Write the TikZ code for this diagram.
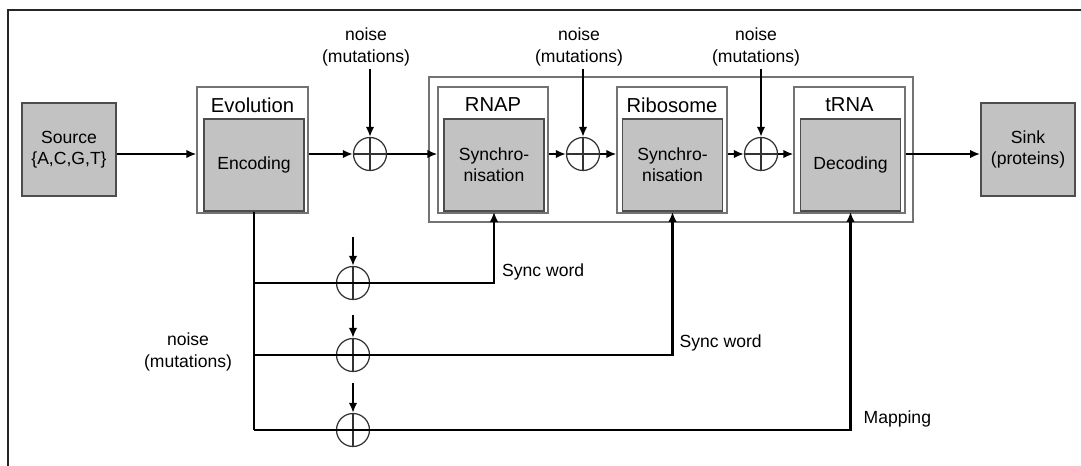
\documentclass[tikz,border=0pt]{standalone}
\usepackage{fontspec}
\setmainfont{Liberation Sans}
\usetikzlibrary{arrows.meta, positioning, calc}
\definecolor{grisCaja}{HTML}{C2C2C2}
\definecolor{bordeCaja}{HTML}{4D4D4D}
\definecolor{bordeMarco}{HTML}{737373}

\begin{document}
\begin{tikzpicture}[x=0.02cm, y=-0.02cm, font=\fontsize{10}{12}\selectfont, >=Latex,
        blk/.style={draw=bordeCaja, line width=1pt, fill=grisCaja, minimum width=2cm,
            minimum height=1.84cm, inner sep=0pt, align=center},
        outer/.style={draw=bordeMarco, line width=0.7pt, minimum width=2.22cm,
            minimum height=2.52cm, inner sep=0pt},
        ttl/.style={font=\fontsize{11.5}{13}\selectfont, anchor=north, inner sep=0pt},
        add/.style={circle, draw=black!80, line width=0.7pt, minimum size=0.66cm, inner sep=0pt,
            path picture={\draw[black!80, line width=0.7pt]
                (path picture bounding box.north) -- (path picture bounding box.south)
                (path picture bounding box.west) -- (path picture bounding box.east);}},
        sig/.style={-{Latex[length=2mm, width=1.7mm]}, line width=1.3pt},
        wire/.style={line width=1.3pt},
        tag/.style={anchor=south west, inner sep=0pt},
        lbl/.style={align=center, inner sep=0pt, font=\fontsize{10}{12.5}\selectfont}]
    \useasboundingbox (0,0) rectangle (1081,466);
    \draw[line width=1.3pt, black!85] (8,466) -- (8,10) -- (1081,10);
    % source, evolution, sink
    \node[blk, minimum width=1.88cm, minimum height=1.86cm] (src) at (69,149.5) {Source\\\{A,C,G,T\}};
    \node[outer] (evo) at (252.5,150) {};
    \node[ttl] at ([yshift=-0.22cm]evo.north) {Evolution};
    \node[blk] (enc) at (254,165) {Encoding};
    \node[blk, minimum width=1.88cm, minimum height=1.86cm] (sink) at (1028,149.5) {Sink\\(proteins)};
    % channel block
    \node[draw=bordeMarco, line width=0.7pt, minimum width=9.68cm, minimum height=2.9cm] (chan) at (671,149.5) {};
    \node[outer, minimum width=2.2cm] (rnap) at (493,150) {};
    \node[ttl] at ([yshift=-0.22cm]rnap.north) {RNAP};
    \node[blk] (rnapIn) at (494,165) {Synchro-\\nisation};
    \node[outer, minimum width=2.2cm] (ribo) at (672,150) {};
    \node[ttl] at ([yshift=-0.22cm]ribo.north) {Ribosome};
    \node[blk] (riboIn) at (672.5,165) {Synchro-\\nisation};
    \node[outer] (trna) at (849.5,150) {};
    \node[ttl] at ([yshift=-0.22cm]trna.north) {tRNA};
    \node[blk] (trnaIn) at (850.5,165) {Decoding};
    % adders on the main line
    \node[add] (a1) at (370,154) {};
    \node[add] (a2) at (583,154) {};
    \node[add] (a3) at (761,154) {};
    \node[lbl] (n1) at (366,47) {noise\\(mutations)};
    \node[lbl] (n2) at (579,47) {noise\\(mutations)};
    \node[lbl] (n3) at (756,47) {noise\\(mutations)};
    \foreach \i in {1,2,3} \draw[sig] ([yshift=-0.04cm]a\i |- n\i.south) -- (a\i);
    \draw[sig] (src.east |- a1) -- (evo.west |- a1);
    \draw[sig] (evo.east |- a1) -- (a1);
    \draw[sig] (a1) -- (rnap.west |- a1);
    \draw[sig] (rnap.east |- a2) -- (a2);
    \draw[sig] (a2) -- (ribo.west |- a2);
    \draw[sig] (ribo.east |- a3) -- (a3);
    \draw[sig] (a3) -- (trna.west |- a3);
    \draw[sig] (trna.east |- a3) -- (sink.west |- a3);
    % side paths
    \node[add] (b1) at (353,283) {};
    \node[add] (b2) at (353,355) {};
    \node[add] (b3) at (353,430) {};
    \coordinate (m1) at (353,237);
    \coordinate (m2) at (353,315);
    \coordinate (m3) at (353,383);
    \foreach \i in {1,2,3} \draw[sig] (m\i) -- (b\i);
    \node[lbl] (nl) at (188,352) {noise\\(mutations)};
    \draw[wire] (enc.south) -- (enc.south |- b3);
    \draw[sig] (enc.south |- b1) -| node[tag, pos=0.5, xshift=0.14cm, yshift=0.04cm] {Sync word} (rnapIn.south);
    \draw[sig] (enc.south |- b2) -| node[tag, pos=0.5, xshift=0.12cm, yshift=0.06cm] {Sync word} (riboIn.south);
    \draw[sig] (enc.south |- b3) -| node[tag, pos=0.5, xshift=0.24cm, yshift=0.04cm] {Mapping} (trnaIn.south);
\end{tikzpicture}
\end{document}
